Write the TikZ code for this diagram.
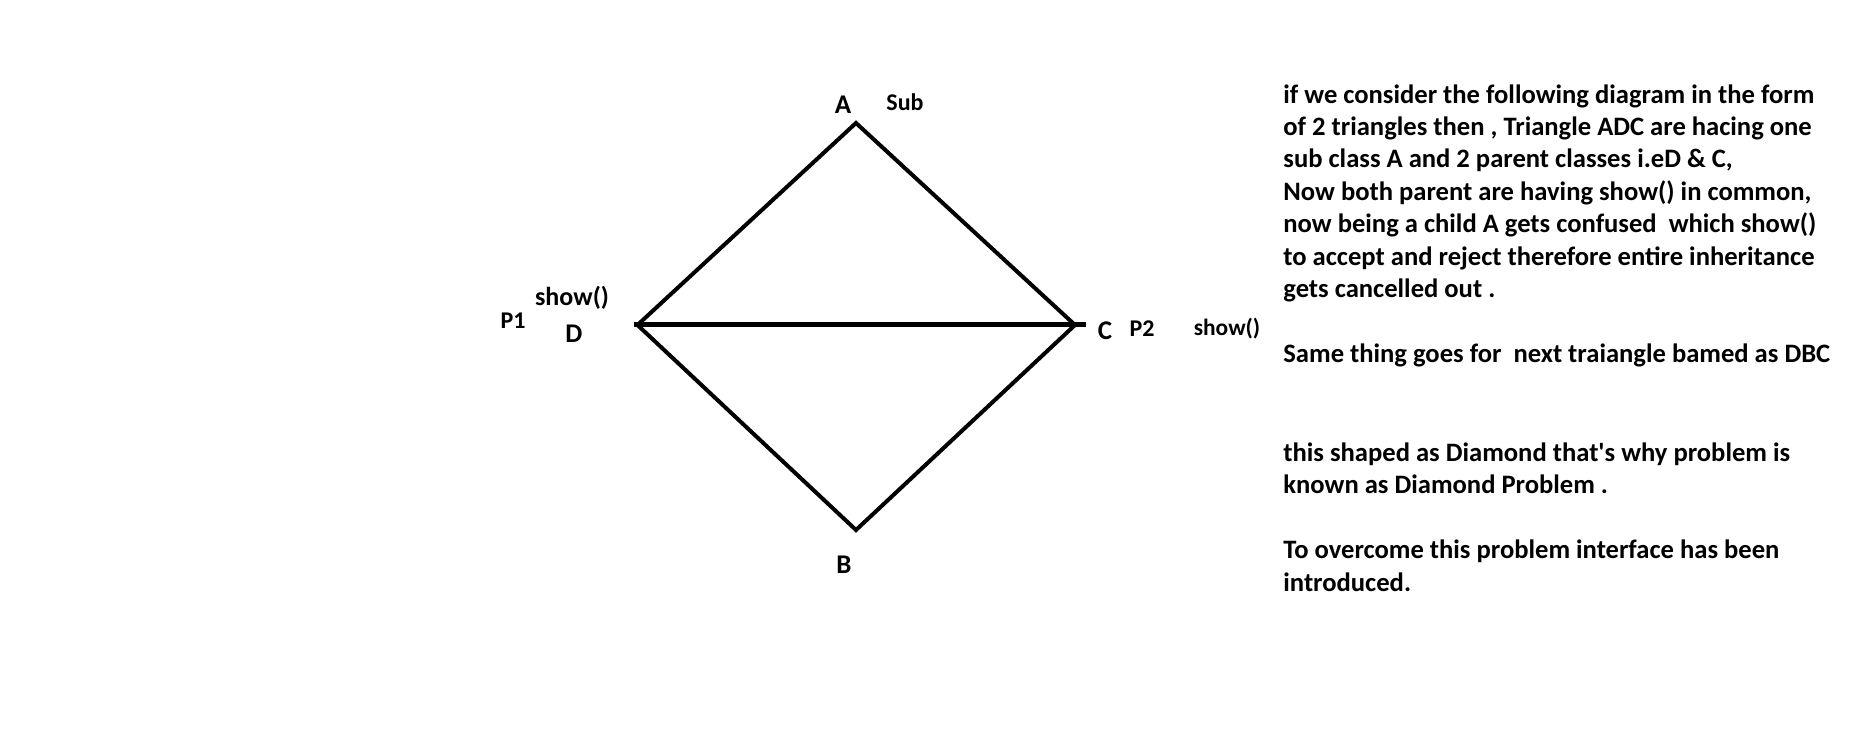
\documentclass[tikz,border=0pt]{standalone}
\usepackage{fontspec}
\setmainfont{Carlito}
\begin{document}
\begin{tikzpicture}[x=0.5pt,y=-0.5pt]
    \tikzset{
        corner/.style={font=\bfseries\fontsize{13.5}{15}\selectfont,inner sep=0pt},
        tag/.style={font=\bfseries\fontsize{12}{14}\selectfont,inner sep=0pt},
        side/.style={line width=2pt,line join=miter},
        note/.style={font=\bfseries\fontsize{13.3}{16.2}\selectfont,
            align=left,inner sep=0pt,anchor=north west},
    }
    \useasboundingbox (0,0) rectangle (1875,743);

    % Corners of the diamond.
    \coordinate (a) at (856,123);
    \coordinate (c) at (1075,325);
    \coordinate (b) at (856,530);
    \coordinate (d) at (637.5,325);
    \coordinate (dEnd) at (634,325);
    \coordinate (cEnd) at (1086,325);

    \draw[side] (a) -- (c) -- (b) -- (d) -- cycle;
    \draw[line width=2.5pt] (dEnd) -- (cEnd);

    % Class labels.
    \node[corner] (labA) at (843,105) {A};
    \node[tag] (sub) at (905,102) {Sub};
    \node[corner] (labB) at (844,565) {B};
    \node[corner] (labD) at (574,334) {D};
    \node[tag] (p1) at (513,321) {P1};
    \node[tag,font=\bfseries\fontsize{13}{15}\selectfont] (showD) at (572,297.5)
        {show()};
    \node[corner] (labC) at (1105,331) {C};
    \node[tag] (p2) at (1142,328.5) {P2};
    \node[tag,font=\bfseries\fontsize{11.7}{14}\selectfont] (showC) at (1227,328.5)
        {show()};

    % Explanation beside the diamond.
    \node[note] (notes) at (1283,84)
        {if we consider the following diagram in the form\\
        of 2 triangles then , Triangle ADC are hacing one\\
        sub class A and 2 parent classes i.eD \& C,\\
        Now both parent are having show() in common,\\
        now being a child A gets confused\ \ which show()\\
        to accept and reject therefore entire inheritance\\
        gets cancelled out .\\[16.2pt]
        Same thing goes for\ \ next traiangle bamed as DBC\\[33.4pt]
        this shaped as Diamond that\textquotesingle s why problem is\\
        known as Diamond Problem .\\[16.2pt]
        To overcome this problem interface has been\\
        introduced.};
\end{tikzpicture}
\end{document}
